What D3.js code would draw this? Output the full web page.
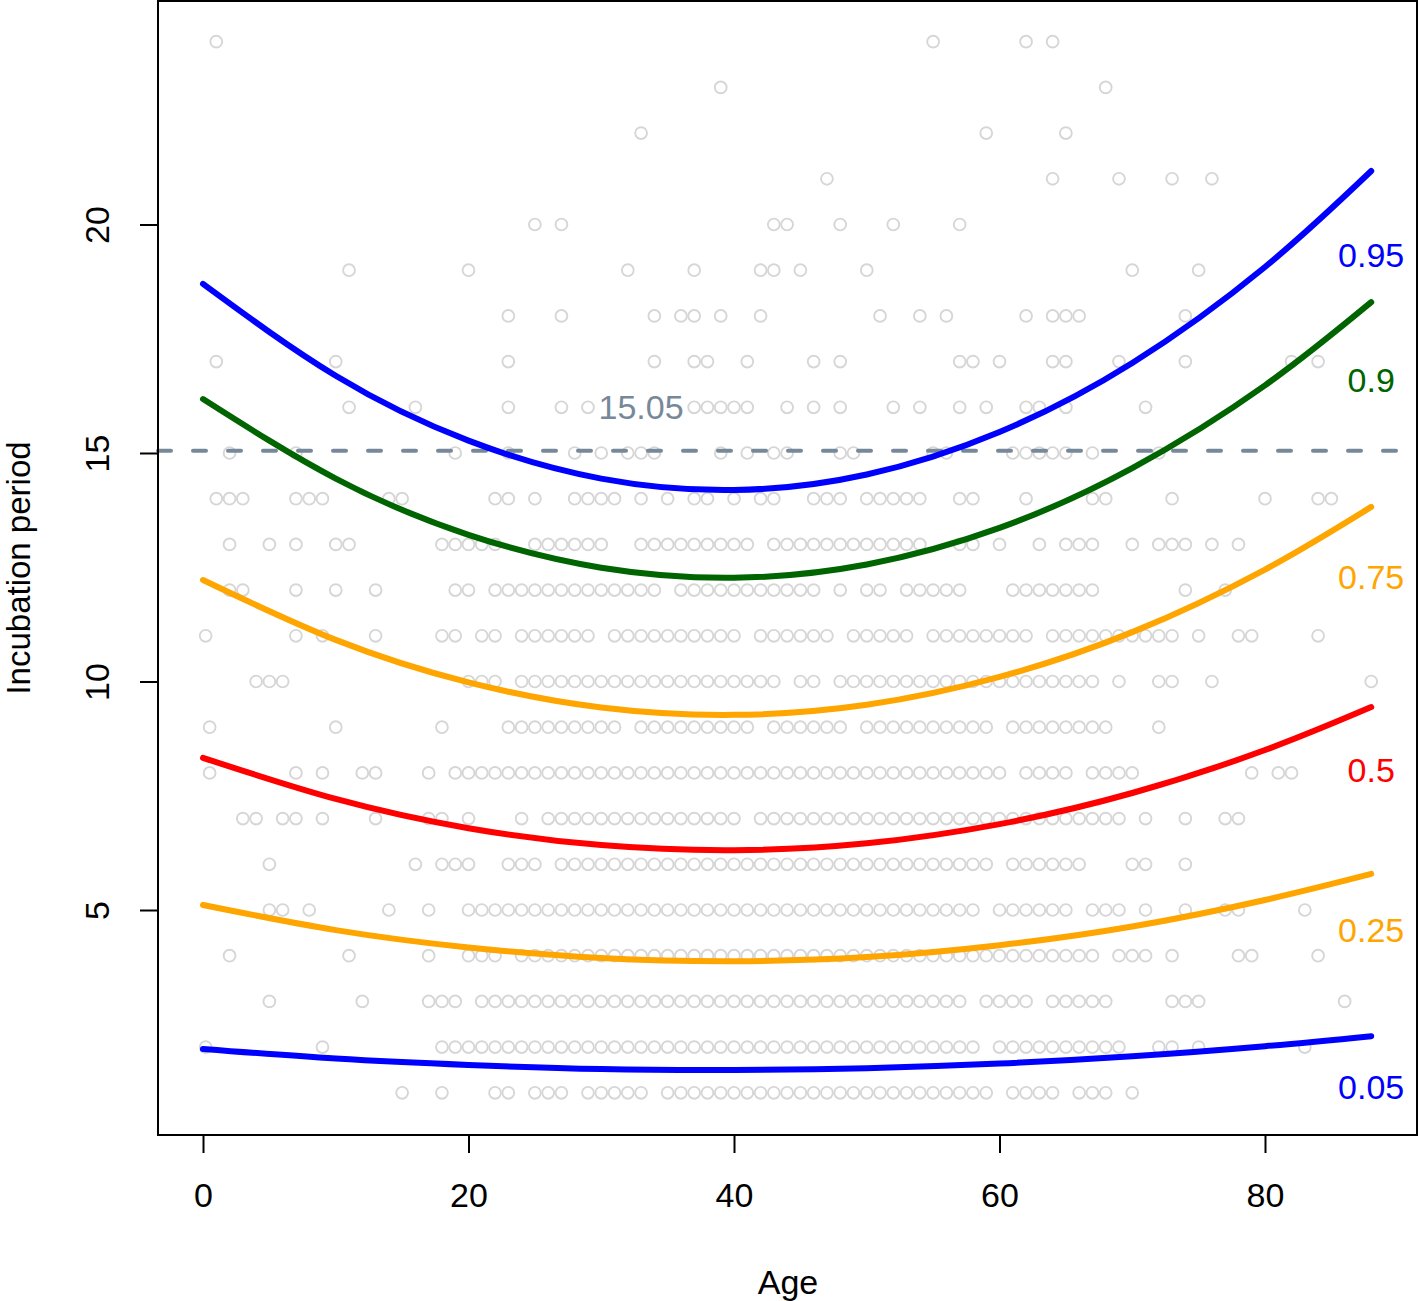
<!DOCTYPE html>
<html>
<head>
<meta charset="utf-8">
<script src="https://cdn.jsdelivr.net/npm/d3@7"></script>
<style>
  body { margin: 0; background: #fff; }
  svg { display: block; font-family: "Liberation Sans", Arial, sans-serif; }
</style>
</head>
<body>
<svg></svg>
<script>
var ages_p1 = [15, 18, 22, 23, 25, 26, 27, 29, 30, 31, 32, 33, 35, 36, 37, 38, 39, 40, 41, 42, 43, 44, 45, 46, 47, 48, 49, 50, 51, 52, 53, 54, 55, 56, 57, 58, 59, 61, 62, 63, 64, 66, 67, 68, 70];
var ages_p2 = [0.2, 9, 18, 19, 20, 21, 22, 23, 24, 25, 26, 27, 28, 29, 30, 31, 32, 33, 34, 35, 36, 37, 38, 39, 40, 41, 42, 43, 44, 45, 46, 47, 48, 49, 50, 51, 52, 53, 54, 55, 56, 57, 58, 60, 61, 62, 63, 64, 65, 66, 67, 68, 69, 72, 73, 75, 83];
var ages_p3 = [5, 12, 17, 18, 19, 21, 22, 23, 24, 25, 26, 27, 28, 29, 30, 31, 32, 33, 34, 35, 36, 37, 38, 39, 40, 41, 42, 43, 44, 45, 46, 47, 48, 49, 50, 51, 52, 53, 54, 55, 56, 57, 59, 60, 61, 62, 64, 65, 66, 67, 68, 73, 74, 75, 86];
var ages_p4 = [2, 11, 17, 20, 21, 22, 24, 25, 26, 27, 28, 29, 30, 31, 32, 33, 34, 35, 36, 37, 38, 39, 40, 41, 42, 43, 44, 45, 46, 47, 48, 49, 50, 51, 52, 53, 54, 55, 56, 57, 58, 59, 60, 61, 62, 63, 64, 65, 66, 67, 69, 70, 71, 73, 78, 79, 84];
var ages_p5 = [5, 6, 8, 14, 17, 20, 21, 22, 23, 24, 25, 26, 27, 28, 29, 30, 31, 32, 33, 34, 35, 36, 37, 38, 39, 40, 41, 42, 43, 44, 45, 46, 47, 48, 49, 50, 51, 52, 53, 54, 55, 56, 57, 58, 60, 61, 62, 63, 64, 65, 67, 68, 69, 71, 74, 77, 78, 83];
var ages_p6 = [5, 16, 18, 19, 20, 23, 24, 25, 27, 28, 29, 30, 31, 32, 33, 34, 35, 36, 37, 38, 39, 40, 41, 42, 43, 44, 45, 46, 47, 48, 49, 50, 51, 52, 53, 54, 55, 56, 57, 58, 59, 61, 62, 63, 64, 65, 66, 70, 71, 74];
var ages_p7 = [3, 4, 6, 7, 9, 13, 17, 18, 20, 24, 26, 27, 28, 29, 30, 31, 32, 33, 34, 35, 36, 37, 38, 39, 40, 42, 43, 44, 45, 46, 47, 48, 49, 50, 51, 52, 53, 54, 55, 56, 57, 58, 59, 60, 61, 62, 63, 64, 65, 66, 67, 68, 69, 71, 74, 77, 78];
var ages_p8 = [0.5, 7, 9, 12, 13, 17, 19, 20, 21, 22, 23, 24, 25, 26, 27, 28, 29, 30, 31, 32, 33, 34, 35, 36, 37, 38, 39, 40, 41, 42, 43, 44, 45, 46, 47, 48, 49, 50, 51, 52, 53, 54, 55, 56, 57, 58, 59, 60, 62, 63, 64, 65, 67, 68, 69, 70, 79, 81, 82];
var ages_p9 = [0.5, 10, 18, 23, 24, 25, 26, 27, 28, 29, 30, 31, 33, 34, 35, 36, 37, 38, 39, 40, 41, 43, 44, 45, 46, 47, 48, 50, 51, 52, 53, 54, 55, 56, 57, 58, 59, 61, 62, 63, 64, 65, 66, 67, 68, 72];
var ages_p10 = [4, 5, 6, 20, 21, 22, 24, 25, 26, 27, 28, 29, 30, 31, 32, 33, 34, 35, 36, 37, 38, 39, 40, 41, 42, 43, 45, 46, 48, 49, 50, 51, 52, 53, 54, 55, 56, 57, 58, 59, 60, 61, 62, 63, 64, 65, 66, 67, 69, 72, 73, 76, 88];
var ages_p11 = [0.2, 7, 9, 13, 18, 19, 21, 22, 24, 25, 26, 27, 28, 29, 31, 32, 33, 34, 35, 36, 37, 38, 39, 40, 42, 43, 44, 45, 46, 47, 49, 50, 51, 52, 53, 55, 56, 57, 58, 59, 60, 61, 62, 64, 65, 66, 67, 68, 69, 70, 71, 72, 73, 75, 78, 79, 84];
var ages_p12 = [2, 3, 7, 10, 13, 19, 20, 22, 23, 24, 25, 26, 27, 28, 29, 30, 31, 32, 33, 34, 36, 37, 38, 39, 40, 41, 42, 43, 44, 45, 46, 48, 50, 51, 53, 54, 55, 56, 57, 61, 62, 63, 64, 65, 66, 67, 74, 77];
var ages_p13 = [2, 5, 7, 10, 11, 18, 19, 20, 21, 22, 25, 26, 27, 28, 29, 30, 33, 34, 35, 36, 37, 38, 39, 40, 41, 43, 44, 45, 46, 47, 48, 49, 50, 51, 52, 53, 54, 57, 58, 60, 63, 65, 66, 67, 70, 72, 73, 74, 76, 78];
var ages_p14 = [1, 2, 3, 7, 8, 9, 14, 15, 22, 23, 25, 28, 29, 30, 31, 33, 35, 37, 38, 40, 42, 43, 46, 47, 48, 50, 51, 52, 53, 54, 57, 58, 62, 67, 68, 73, 80, 84, 85];
var ages_p15 = [2, 7, 19, 23, 28, 30, 32, 33, 34, 39, 41, 43, 44, 48, 49, 55, 56, 61, 62, 63, 64, 65, 67, 72];
var ages_p16 = [11, 16, 23, 27, 29, 37, 38, 39, 40, 41, 44, 46, 48, 52, 54, 57, 59, 62, 63, 65, 71];
var ages_p17 = [1, 10, 23, 34, 37, 38, 41, 46, 48, 57, 58, 60, 64, 65, 69, 74, 82, 84];
var ages_p18 = [23, 27, 34, 36, 37, 39, 42, 51, 54, 56, 62, 64, 65, 66, 74];
var ages_p19 = [11, 20, 32, 37, 42, 43, 45, 50, 70, 75];
var ages_p20 = [25, 27, 43, 44, 48, 52, 57];
var ages_p21 = [47, 64, 69, 73, 76];
var ages_p22 = [33, 59, 65];
var ages_p23 = [39, 68];
var ages_p24 = [1, 55, 62, 64];

var agesByPeriod = [ages_p1, ages_p2, ages_p3, ages_p4, ages_p5, ages_p6, ages_p7, ages_p8,
  ages_p9, ages_p10, ages_p11, ages_p12, ages_p13, ages_p14, ages_p15, ages_p16,
  ages_p17, ages_p18, ages_p19, ages_p20, ages_p21, ages_p22, ages_p23, ages_p24];

// quantile regression curves, read at these ages
var curveAges = [0, 10, 20, 30, 40, 50, 60, 70, 80, 88];
var q05 = [1.96, 1.75, 1.61, 1.52, 1.50, 1.54, 1.64, 1.80, 2.02, 2.24];
var q25 = [5.11, 4.56, 4.18, 3.95, 3.88, 3.97, 4.23, 4.64, 5.22, 5.79];
var q50 = [8.33, 7.43, 6.79, 6.42, 6.31, 6.46, 6.88, 7.56, 8.50, 9.44];
var q75 = [12.22, 10.91, 9.98, 9.43, 9.27, 9.49, 10.10, 11.08, 12.45, 13.82];
var q90 = [16.18, 14.44, 13.21, 12.49, 12.27, 12.56, 13.36, 14.67, 16.48, 18.30];
var q95 = [18.70, 16.69, 15.27, 14.44, 14.19, 14.53, 15.46, 16.97, 19.07, 21.17];

var quantiles = ["0.05", "0.25", "0.5", "0.75", "0.9", "0.95"];
var quantileColors = ["#0000ff", "#ffa500", "#ff0000", "#ffa500", "#006400", "#0000ff"];
var labelY = [1.13, 4.56, 8.06, 12.29, 16.6, 19.33];
var labelAge = 88;

var refLine = 15.05;
var xTicks = [0, 20, 40, 60, 80];
var yTicks = [5, 10, 15, 20];

var svgWidth = 1419, svgHeight = 1301;
var plotLeft = 158, plotRight = 1417, plotTop = 1, plotBottom = 1135;

var svg = d3.select("svg")
    .attr("width", svgWidth)
    .attr("height", svgHeight);

var x = d3.scaleLinear().domain([-3.39, 91.45]).range([plotLeft, plotRight]);
var y = d3.scaleLinear().domain([0.077, 24.89]).range([plotBottom, plotTop]);

// scatter of observations
var points = [];
agesByPeriod.forEach(function(list, i) {
    list.forEach(function(a) { points.push({age: a, period: i + 1}); });
});

svg.append("g").selectAll("circle")
    .data(points)
    .enter()
    .append("circle")
    .attr("cx", function(d) { return x(d.age); })
    .attr("cy", function(d) { return y(d.period); })
    .attr("r", 5.9)
    .attr("fill", "none")
    .attr("stroke", "#d6d6d6")
    .attr("stroke-width", 1.9);

// reference line
svg.append("line")
    .attr("x1", plotLeft).attr("x2", plotRight)
    .attr("y1", y(refLine)).attr("y2", y(refLine))
    .attr("stroke", "#778899")
    .attr("stroke-width", 4)
    .attr("stroke-linecap", "round")
    .attr("stroke-dasharray", "13,22");

svg.append("text")
    .attr("x", x(33)).attr("y", y(16))
    .attr("text-anchor", "middle")
    .attr("dominant-baseline", "central")
    .attr("font-size", 34)
    .attr("fill", "#778899")
    .text(refLine.toFixed(2));

// quantile curves
var line = d3.line()
    .x(function(d) { return x(d[0]); })
    .y(function(d) { return y(d[1]); })
    .curve(d3.curveNatural);

var series = [q05, q25, q50, q75, q90, q95];
series.forEach(function(vals, i) {
    svg.append("path")
        .datum(curveAges.map(function(a, j) { return [a, vals[j]]; }))
        .attr("d", line)
        .attr("fill", "none")
        .attr("stroke", quantileColors[i])
        .attr("stroke-width", 6)
        .attr("stroke-linecap", "round");

    svg.append("text")
        .attr("x", x(labelAge)).attr("y", y(labelY[i]))
        .attr("text-anchor", "middle")
        .attr("dominant-baseline", "central")
        .attr("font-size", 34)
        .attr("fill", quantileColors[i])
        .text(quantiles[i]);
});

// box
svg.append("rect")
    .attr("x", plotLeft).attr("y", plotTop)
    .attr("width", plotRight - plotLeft).attr("height", plotBottom - plotTop)
    .attr("fill", "none")
    .attr("stroke", "#000")
    .attr("stroke-width", 2);

// axes
var xAxis = svg.append("g")
    .attr("transform", "translate(0," + plotBottom + ")")
    .call(d3.axisBottom(x).tickValues(xTicks).tickSize(18).tickPadding(30));
var yAxis = svg.append("g")
    .attr("transform", "translate(" + plotLeft + ",0)")
    .call(d3.axisLeft(y).tickValues(yTicks).tickSize(18));

[xAxis, yAxis].forEach(function(g) {
    g.select(".domain").remove();
    g.selectAll(".tick line").attr("stroke", "#000").attr("stroke-width", 2);
    g.selectAll(".tick text")
        .attr("fill", "#000")
        .attr("font-size", 34)
        .attr("font-family", "Liberation Sans, Arial, sans-serif");
});

yAxis.selectAll(".tick text")
    .attr("x", null).attr("dy", null)
    .attr("text-anchor", "middle")
    .attr("dominant-baseline", "central")
    .attr("transform", "translate(-61,0) rotate(-90)");

svg.append("text")
    .attr("x", 788).attr("y", 1282)
    .attr("text-anchor", "middle")
    .attr("dominant-baseline", "central")
    .attr("font-size", 34)
    .text("Age");

svg.append("text")
    .attr("transform", "translate(18," + ((plotTop + plotBottom) / 2) + ") rotate(-90)")
    .attr("text-anchor", "middle")
    .attr("dominant-baseline", "central")
    .attr("font-size", 33)
    .text("Incubation period");
</script>
</body>
</html>
